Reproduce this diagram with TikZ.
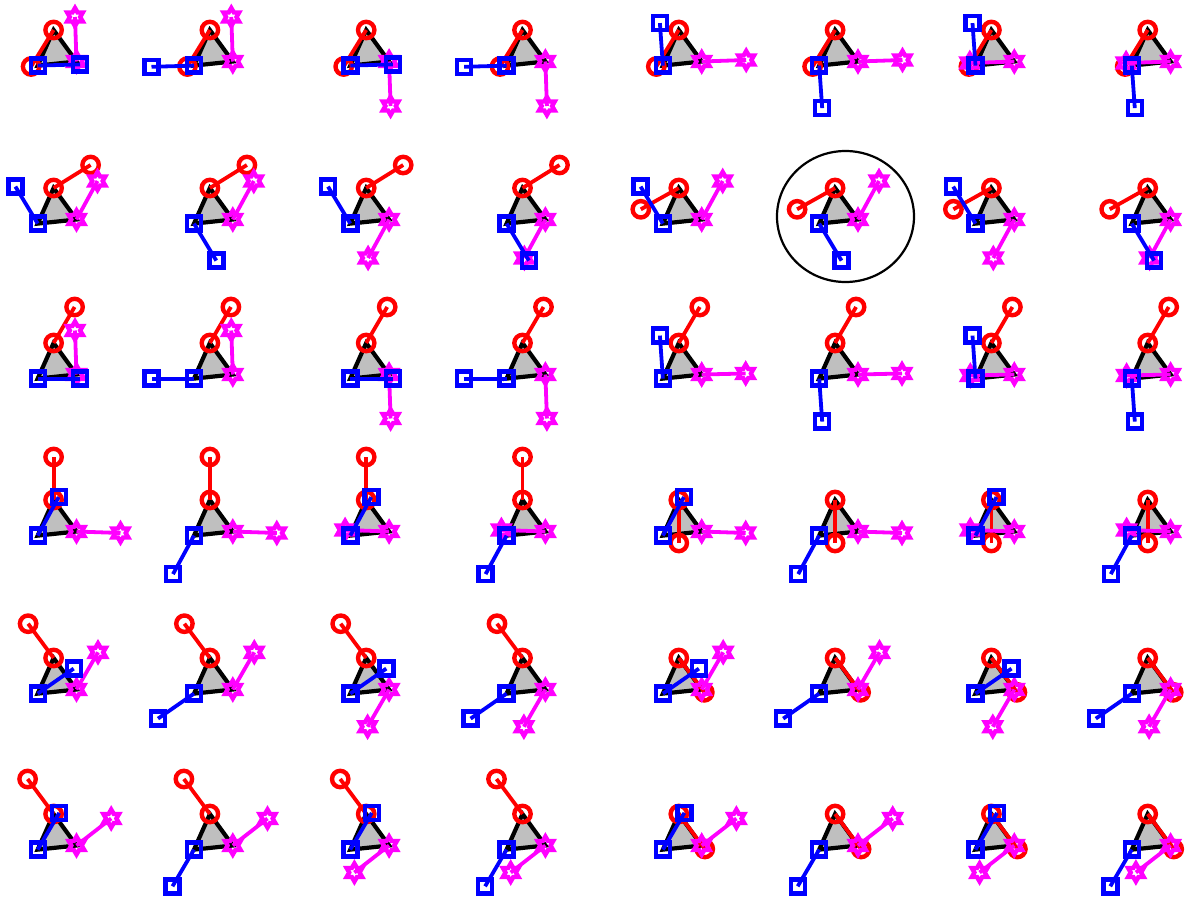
\documentclass[tikz,border=0pt]{standalone}
\usetikzlibrary{calc,shapes.geometric}
\definecolor{mag}{RGB}{255,0,255}
\definecolor{tgray}{RGB}{191,191,191}
\tikzset{
 tri/.style={draw=black,fill=tgray,line width=2.1pt,line join=miter},
 redarm/.style={draw=red,line width=1.9pt},
 bluearm/.style={draw=blue,line width=1.9pt},
 magarm/.style={draw=mag,line width=1.9pt},
 redmk/.style={circle,draw=red,line width=2.2pt,minimum size=8.2pt,inner sep=0pt},
 bluemk/.style={rectangle,draw=blue,line width=2.2pt,minimum size=7pt,inner sep=0pt},
 magmk/.style={star,star points=6,star point ratio=1.73,draw=mag,line width=2.2pt,minimum size=9pt,inner sep=0pt},
 selring/.style={ellipse,draw=black,line width=1.1pt,minimum width=68.5pt,minimum height=65.5pt,inner sep=0pt},
}
\newcommand{\cell}[6]{%
 \coordinate (#1A) at (#2,#3);
 \coordinate (#1B) at ($(#1A)+(-15.9,35.6)$);
 \coordinate (#1C) at ($(#1A)+(22.9,31.5)$);
 \coordinate (#1R) at ($(#1A)+(#4)$);
 \coordinate (#1Q) at ($(#1B)+(#5)$);
 \coordinate (#1M) at ($(#1C)+(#6)$);
 \path[tri] (#1A) -- (#1B) -- (#1C) -- cycle;
 \draw[redarm] (#1A) -- (#1R);
 \node[redmk] (#1ra) at (#1A) {};
 \node[redmk] (#1rb) at (#1R) {};
 \draw[magarm] (#1C) -- (#1M);
 \node[magmk] (#1ma) at (#1C) {};
 \node[magmk] (#1mb) at (#1M) {};
 \draw[bluearm] (#1B) -- (#1Q);
 \node[bluemk] (#1ba) at (#1B) {};
 \node[bluemk] (#1bb) at (#1Q) {};
}
\begin{document}
\begin{tikzpicture}[x=0.5pt,y=-0.5pt]
\useasboundingbox (0,0) rectangle (1185,900);
% row 1
\cell{ra1}{53.6}{30}{-22.5,36.5}{42.5,-1.2}{-1.5,-44.5}
\cell{ra2}{209.9}{30}{-22.5,36.5}{-42.5,1.2}{-1.5,-44.5}
\cell{ra3}{366.2}{30}{-22.5,36.5}{42.5,-1.2}{1.5,44.5}
\cell{ra4}{522.5}{30}{-22.5,36.5}{-42.5,1.2}{1.5,44.5}
\cell{ra5}{678.8}{30}{-22.5,36.5}{-3,-42.5}{44.5,-1.5}
\cell{ra6}{835.1}{30}{-22.5,36.5}{3,42.5}{44.5,-1.5}
\cell{ra7}{991.4}{30}{-22.5,36.5}{-3,-42.5}{-44.5,1.5}
\cell{ra8}{1147.7}{30}{-22.5,36.5}{3,42.5}{-44.5,1.5}
% row 2
\cell{rb1}{53.6}{188}{37,-23}{-22.3,-37}{21,-38.5}
\cell{rb2}{209.9}{188}{37,-23}{22.3,37}{21,-38.5}
\cell{rb3}{366.2}{188}{37,-23}{-22.3,-37}{-21,38.5}
\cell{rb4}{522.5}{188}{37,-23}{22.3,37}{-21,38.5}
\cell{rb5}{678.8}{188}{-38,21.3}{-22.3,-37}{21,-38.5}
\cell{rb6}{835.1}{188}{-38,21.3}{22.3,37}{21,-38.5}
\cell{rb7}{991.4}{188}{-38,21.3}{-22.3,-37}{-21,38.5}
\cell{rb8}{1147.7}{188}{-38,21.3}{22.3,37}{-21,38.5}
\node[selring] (sel) at (845.5,216.5) {};
% row 3
\cell{rc1}{53.6}{343}{21,-36}{42.5,0}{-1.5,-44}
\cell{rc2}{209.9}{343}{21,-36}{-42.5,0}{-1.5,-44}
\cell{rc3}{366.2}{343}{21,-36}{42.5,0}{1.5,44}
\cell{rc4}{522.5}{343}{21,-36}{-42.5,0}{1.5,44}
\cell{rc5}{678.8}{343}{21,-36}{-3,-43}{44,-1}
\cell{rc6}{835.1}{343}{21,-36}{3,43}{44,-1}
\cell{rc7}{991.4}{343}{21,-36}{-3,-43}{-44,1}
\cell{rc8}{1147.7}{343}{21,-36}{3,43}{-44,1}
% row 4
\cell{rd1}{53.6}{500}{0,-43}{21,-38.5}{44,1.5}
\cell{rd2}{209.9}{500}{0,-43}{-21,38.5}{44,1.5}
\cell{rd3}{366.2}{500}{0,-43}{21,-38.5}{-44,-1.5}
\cell{rd4}{522.5}{500}{0,-43}{-21,38.5}{-44,-1.5}
\cell{rd5}{678.8}{500}{0,43}{21,-38.5}{44,1.5}
\cell{rd6}{835.1}{500}{0,43}{-21,38.5}{44,1.5}
\cell{rd7}{991.4}{500}{0,43}{21,-38.5}{-44,-1.5}
\cell{rd8}{1147.7}{500}{0,43}{-21,38.5}{-44,-1.5}
% row 5
\cell{re1}{53.6}{658}{-25.5,-34.3}{36,-25}{21.5,-37.2}
\cell{re2}{209.9}{658}{-25.5,-34.3}{-36,25}{21.5,-37.2}
\cell{re3}{366.2}{658}{-25.5,-34.3}{36,-25}{-21.5,37.2}
\cell{re4}{522.5}{658}{-25.5,-34.3}{-36,25}{-21.5,37.2}
\cell{re5}{678.8}{658}{25.5,34.3}{36,-25}{21.5,-37.2}
\cell{re6}{835.1}{658}{25.5,34.3}{-36,25}{21.5,-37.2}
\cell{re7}{991.4}{658}{25.5,34.3}{36,-25}{-21.5,37.2}
\cell{re8}{1147.7}{658}{25.5,34.3}{-36,25}{-21.5,37.2}
% row 6
\cell{rf1}{53.6}{814}{-26,-35}{21.5,-36.7}{34.7,-27}
\cell{rf2}{209.9}{814}{-26,-35}{-21.5,36.7}{34.7,-27}
\cell{rf3}{366.2}{814}{-26,-35}{21.5,-36.7}{-34.7,27}
\cell{rf4}{522.5}{814}{-26,-35}{-21.5,36.7}{-34.7,27}
\cell{rf5}{678.8}{814}{26,35}{21.5,-36.7}{34.7,-27}
\cell{rf6}{835.1}{814}{26,35}{-21.5,36.7}{34.7,-27}
\cell{rf7}{991.4}{814}{26,35}{21.5,-36.7}{-34.7,27}
\cell{rf8}{1147.7}{814}{26,35}{-21.5,36.7}{-34.7,27}
\end{tikzpicture}
\end{document}
